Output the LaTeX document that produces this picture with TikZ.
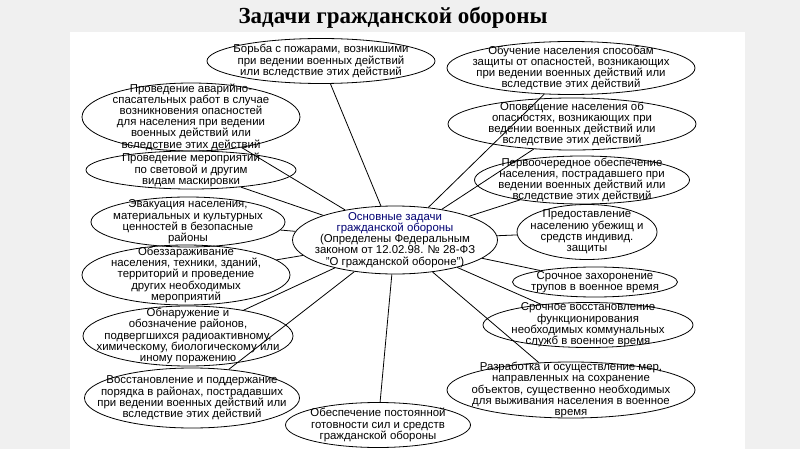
\documentclass[tikz,border=0pt]{standalone}
\usepackage{fontspec}
\setmainfont{Liberation Sans}
\newfontfamily\titlefont{Liberation Serif}
\usetikzlibrary{shapes.geometric}

\begin{document}
\begin{tikzpicture}[
  x=1pt, y=-1pt,
  task/.style={draw, ellipse, thick, inner sep=0pt},
  txt/.style={align=center, inner sep=0pt, font=\fontsize{11.4}{11.2}\selectfont},
  link/.style={thick},
]

% --- slide background ---
\fill[gray!12] (0,0) rectangle (800,449);
\fill[white] (70,32) rectangle (745,449);
\useasboundingbox (0,0) rectangle (800,449);

\node[font=\titlefont\bfseries\fontsize{23}{25}\selectfont] (title) at (393,18)
  {Задачи гражданской обороны};

% --- centre ---
\node[task, minimum width=205, minimum height=68,
  label={[txt]center:{\textcolor{blue!45!black}{Основные задачи}\\
   \textcolor{blue!45!black}{гражданской обороны}\\
   (Определены Федеральным\\законом от 12.02.98. № 28-ФЗ\\
   "О гражданской обороне")}}] (core) at (395,240) {};

% --- left column ---
\node[task, minimum width=228, minimum height=45,
  label={[txt]center:{Борьба с пожарами, возникшими\\при ведении военных действий\\или вследствие этих действий}}]
  (fire) at (321,61) {};
\node[task, minimum width=218, minimum height=68,
  label={[txt]center:{Проведение аварийно-\\спасательных работ в случае\\возникновения опасностей\\для населения при ведении\\военных действий или\\вследствие этих действий}}]
  (rescue) at (191,117) {};
\node[task, minimum width=210, minimum height=38,
  label={[txt]center:{Проведение мероприятий\\по световой и другим\\видам маскировки}}]
  (mask) at (191,170) {};
\node[task, minimum width=194, minimum height=50,
  label={[txt]center:{Эвакуация населения,\\материальных и культурных\\ценностей в безопасные\\районы}}]
  (evac) at (188,222) {};
\node[task, minimum width=208, minimum height=60,
  label={[txt]center:{Обеззараживание\\населения, техники, зданий,\\территорий и проведение\\других необходимых\\мероприятий}}]
  (decon) at (186,275) {};
\node[task, minimum width=210, minimum height=60,
  label={[txt]center:{Обнаружение и\\обозначение районов,\\подвергшихся радиоактивному,\\химическому, биологическому или\\иному поражению}}]
  (detect) at (188,336) {};
\node[task, minimum width=215, minimum height=60,
  label={[txt]center:{Восстановление и поддержание\\порядка в районах, пострадавших\\при ведении военных действий или\\вследствие этих действий}}]
  (order) at (192,398) {};
\node[task, minimum width=185, minimum height=45,
  label={[txt]center:{Обеспечение постоянной\\готовности сил и средств\\гражданской обороны}}]
  (ready) at (378,425) {};

% --- right column ---
\node[task, minimum width=248, minimum height=53,
  label={[txt]center:{Обучение населения способам\\защиты от опасностей, возникающих\\при ведении военных действий или\\вследствие этих действий}}]
  (teach) at (571,68) {};
\node[task, minimum width=248, minimum height=52,
  label={[txt]center:{Оповещение населения об\\опасностях, возникающих при\\ведении военных действий или\\вследствие этих действий}}]
  (warn) at (572,124) {};
\node[task, minimum width=215, minimum height=48,
  label={[txt]center:{Первоочередное обеспечение\\населения, пострадавшего при\\ведении военных действий или\\вследствие этих действий}}]
  (supply) at (582,180) {};
\node[task, minimum width=140, minimum height=55,
  label={[txt]center:{Предоставление\\населению убежищ и\\средств индивид.\\защиты}}]
  (shelter) at (587,232) {};
\node[task, minimum width=165, minimum height=30,
  label={[txt]center:{Срочное захоронение\\трупов в военное время}}]
  (burial) at (595,282) {};
\node[task, minimum width=210, minimum height=45,
  label={[txt]center:{Срочное восстановление\\функционирования\\необходимых коммунальных\\служб в военное время}}]
  (utility) at (588,325) {};
\node[task, minimum width=248, minimum height=56,
  label={[txt]center:{Разработка и осуществление мер,\\направленных на сохранение\\объектов, существенно необходимых\\для выживания населения в военное\\время}}]
  (preserve) at (571,390) {};

% --- spokes ---
\foreach \n in {fire,rescue,mask,evac,decon,detect,order,ready,
                teach,warn,supply,shelter,burial,utility,preserve}
  \draw[link] (core) -- (\n);

\end{tikzpicture}
\end{document}
